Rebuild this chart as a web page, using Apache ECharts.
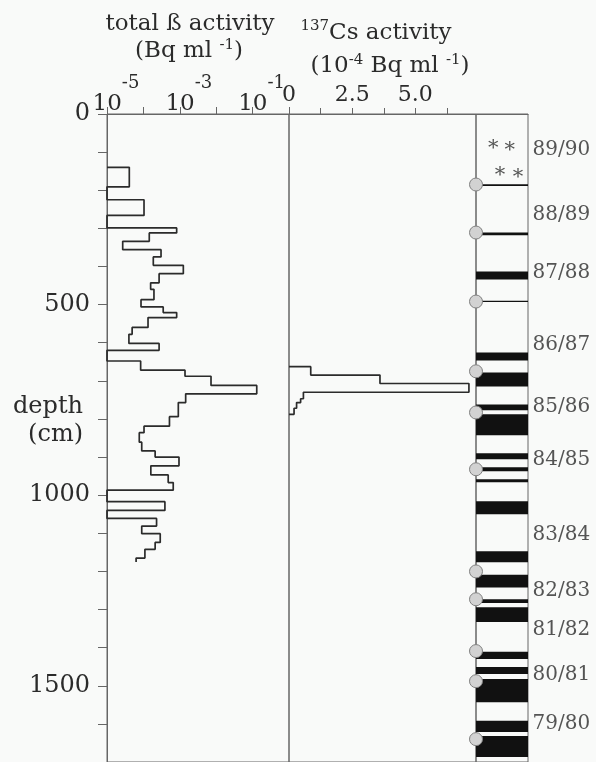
<!DOCTYPE html>
<html><head><meta charset="utf-8">
<script src="https://cdn.jsdelivr.net/npm/echarts@6/dist/echarts.min.js"></script>
<style>html,body{margin:0;padding:0;background:#f9faf9}#c{width:596px;height:762px}</style>
</head><body><div id="c"></div>
<script>
// ---------- data ----------
const DEPTH_MIN = 0, DEPTH_MAX = 1700;
// total beta activity (Bq/ml), stepped profile: boundaries (cm) and values per interval (null = below detection)
const BETA_BOUNDS = [140,191,225,266,299,312,334,356,375,397,419,443,460,487,506,521,534,560,578,602,620,648,672,688,712,734,757,794,819,836,861,884,900,923,947,967,987,1017,1040,1061,1081,1101,1124,1142,1165,1175];
const BETA_VALUES = [4.1e-5,null,1.04e-4,null,8.2e-4,1.45e-4,2.7e-5,3.05e-4,1.87e-4,1.25e-3,2.7e-4,1.58e-4,1.95e-4,8.6e-5,3.5e-4,8.2e-4,1.34e-4,4.9e-5,4.0e-5,2.7e-4,null,8.4e-5,1.39e-3,7.2e-3,0.13,1.45e-3,9.1e-4,5.2e-4,1.04e-4,7.7e-5,9.0e-5,2.1e-4,9.5e-4,1.6e-4,4.8e-4,6.6e-4,null,3.9e-4,null,2.3e-4,9.0e-5,2.9e-4,2.1e-4,1.1e-4,6.3e-5];
// 137Cs activity (1e-4 Bq/ml)
const CS_BOUNDS = [663,685,707,730,747,757,772,788];
const CS_VALUES = [0.86,3.6,7.12,0.57,0.46,0.30,0.20];
// stratigraphy: dark layers (cm)
const BAND_TOPS    = [184,311,413,490,626,678,762,788,890,927,958,1016,1147,1209,1273,1294,1411,1451,1482,1592,1632];
const BAND_BOTTOMS = [189,318,434,493,647,715,777,843,906,937,966,1050,1176,1242,1283,1333,1430,1469,1543,1621,1687];
// sample markers (circles)
const MARKER_DEPTHS = [185,311,492,675,783,932,1200,1273,1409,1488,1640];
// season labels
const SEASONS = ['89/90','88/89','87/88','86/87','85/86','84/85','83/84','82/83','81/82','80/81','79/80'];
const SEASON_DEPTHS = [94,264,416,605,767,906,1103,1252,1352,1470,1600];
// asterisks
const STAR_DEPTHS = [80,86,150,157];
const STAR_POS = [0.33,0.65,0.46,0.81];

// ---------- build ----------
function stepPoints(bounds, values, base, closeToBase) {
  const pts = [[base, bounds[0]]];
  for (let i = 0; i < values.length; i++) {
    const v = values[i] == null ? base : values[i];
    pts.push([v, bounds[i]], [v, bounds[i + 1]]);
  }
  if (closeToBase) pts.push([base, bounds[bounds.length - 1]]);
  return pts;
}
const FONT = "'DejaVu Serif', 'Liberation Serif', serif";
const INK = '#2b2b2b';
const FRAME = '#666';

const chart = echarts.init(document.getElementById('c'), null, {renderer: 'canvas'});
const gridCommon = {top: 114, height: 649, show: true, borderColor: FRAME, borderWidth: 1, backgroundColor: 'transparent'};

const option = {
  backgroundColor: '#f9faf9',
  animation: false,
  grid: [
    Object.assign({left: 107, width: 182}, gridCommon),
    Object.assign({left: 289, width: 187}, gridCommon),
    Object.assign({left: 476, width: 52}, gridCommon)
  ],
  xAxis: [
    {
      gridIndex: 0, type: 'log', logBase: 10, min: 1e-5, max: 1, position: 'top',
      axisLine: {show: true, lineStyle: {color: FRAME}},
      axisTick: {show: true, inside: false, length: 7, lineStyle: {color: FRAME}},
      splitLine: {show: false}, minorTick: {show: false},
      axisLabel: {
        margin: 8, color: INK, fontFamily: FONT, padding: [0, 0, 0, 18],
        formatter: function (v) {
          const e = Math.round(Math.log10(v));
          if (e === -5 || e === -3 || e === -1) return '{b|10}{e|-' + Math.abs(e) + '}';
          return '';
        },
        rich: {
          b: {fontSize: 23, fontFamily: FONT, color: INK, lineHeight: 22, padding: [19, 0, 0, 0]},
          e: {fontSize: 18, fontFamily: FONT, color: INK, lineHeight: 18, padding: [0, 0, 23, 0]}
        }
      }
    },
    {
      gridIndex: 1, type: 'value', min: 0, max: 7.4, interval: 1.25, position: 'top',
      axisLine: {show: true, lineStyle: {color: FRAME}},
      axisTick: {show: true, inside: false, length: 6, lineStyle: {color: FRAME}},
      splitLine: {show: false},
      axisLabel: {
        margin: 8, color: INK, fontFamily: FONT, fontSize: 22, showMaxLabel: false,
        formatter: function (v) { return v === 0 ? '0' : (v === 2.5 ? '2.5' : (v === 5 ? '5.0' : '')); }
      }
    },
    {
      gridIndex: 2, type: 'value', min: 0, max: 1, position: 'top',
      axisLine: {show: true, lineStyle: {color: FRAME}}, axisTick: {show: false},
      axisLabel: {show: false}, splitLine: {show: false}
    }
  ],
  yAxis: [
    {
      gridIndex: 0, type: 'value', inverse: true, min: DEPTH_MIN, max: DEPTH_MAX, interval: 100,
      axisLine: {show: true, lineStyle: {color: FRAME}},
      axisTick: {show: true, inside: false, length: 9, lineStyle: {color: FRAME}},
      splitLine: {show: false},
      axisLabel: {
        margin: 17, color: INK, fontFamily: FONT, fontSize: 24,
        formatter: function (v) { return (v % 500 === 0) ? String(v) : ''; }
      }
    },
    {gridIndex: 1, type: 'value', inverse: true, min: DEPTH_MIN, max: DEPTH_MAX, show: false},
    {gridIndex: 2, type: 'value', inverse: true, min: DEPTH_MIN, max: DEPTH_MAX, show: false}
  ],
  series: [
    {
      type: 'line', xAxisIndex: 0, yAxisIndex: 0, showSymbol: false, symbol: 'none',
      data: stepPoints(BETA_BOUNDS, BETA_VALUES, 1e-5, false),
      lineStyle: {color: INK, width: 1.7}
    },
    {
      type: 'line', xAxisIndex: 1, yAxisIndex: 1, showSymbol: false, symbol: 'none',
      data: stepPoints(CS_BOUNDS, CS_VALUES, 0, true),
      lineStyle: {color: INK, width: 1.7}
    },
    {
      type: 'custom', xAxisIndex: 2, yAxisIndex: 2,
      data: BAND_TOPS.map((t, i) => [0, t, 1, BAND_BOTTOMS[i]]),
      encode: {x: [0, 2], y: [1, 3]},
      renderItem: function (params, api) {
        const p1 = api.coord([api.value(0), api.value(1)]);
        const p2 = api.coord([api.value(2), api.value(3)]);
        return {type: 'rect', shape: {x: p1[0], y: p1[1], width: p2[0] - p1[0], height: Math.max(1, p2[1] - p1[1])}, style: {fill: '#111'}};
      },
      z: 3
    },
    {
      type: 'scatter', xAxisIndex: 2, yAxisIndex: 2, clip: false,
      data: MARKER_DEPTHS.map(d => [0, d]),
      symbol: 'circle', symbolSize: 13,
      itemStyle: {color: '#d2d2d2', borderColor: '#808080', borderWidth: 1, opacity: 1},
      z: 5
    },
    {
      type: 'scatter', xAxisIndex: 2, yAxisIndex: 2, clip: false,
      data: SEASON_DEPTHS.map((d, i) => ({value: [1, d], name: SEASONS[i]})),
      symbolSize: 1, itemStyle: {color: 'rgba(0,0,0,0)'},
      label: {show: true, position: 'right', distance: 4, formatter: p => p.name, color: INK, fontFamily: FONT, fontSize: 20},
      z: 5
    },
    {
      type: 'scatter', xAxisIndex: 2, yAxisIndex: 2, clip: false,
      data: STAR_DEPTHS.map((d, i) => [STAR_POS[i], d]),
      symbolSize: 1, itemStyle: {color: 'rgba(0,0,0,0)'},
      label: {show: true, position: 'inside', formatter: '*', color: INK, fontFamily: FONT, fontSize: 21, offset: [0, 4]},
      z: 5
    }
  ],
  graphic: [
    {type: 'text', x: 190, y: 24, style: {text: 'total \u00df activity', font: '23px ' + FONT, fill: INK, textAlign: 'center', textVerticalAlign: 'middle'}},
    {type: 'text', x: 189, y: 51, style: {text: '(Bq ml {s|-1})', font: '23px ' + FONT, fill: INK, textAlign: 'center', textVerticalAlign: 'middle',
      rich: {s: {fontSize: 15, fontFamily: FONT, fill: INK, padding: [0, 0, 11, 0]}}}},
    {type: 'text', x: 376, y: 33, style: {text: '{s|137}Cs activity', font: '23px ' + FONT, fill: INK, textAlign: 'center', textVerticalAlign: 'middle',
      rich: {s: {fontSize: 15, fontFamily: FONT, fill: INK, padding: [0, 0, 13, 0]}}}},
    {type: 'text', x: 390, y: 66, style: {text: '(10{s|-4} Bq ml {s|-1})', font: '23px ' + FONT, fill: INK, textAlign: 'center', textVerticalAlign: 'middle',
      rich: {s: {fontSize: 15, fontFamily: FONT, fill: INK, padding: [0, 0, 11, 0]}}}},
    {type: 'text', x: 83, y: 407, style: {text: 'depth', font: '24px ' + FONT, fill: INK, textAlign: 'right', textVerticalAlign: 'middle'}},
    {type: 'text', x: 83, y: 435, style: {text: '(cm)', font: '24px ' + FONT, fill: INK, textAlign: 'right', textVerticalAlign: 'middle'}}
  ]
};
chart.setOption(option);
</script>
</body></html>
